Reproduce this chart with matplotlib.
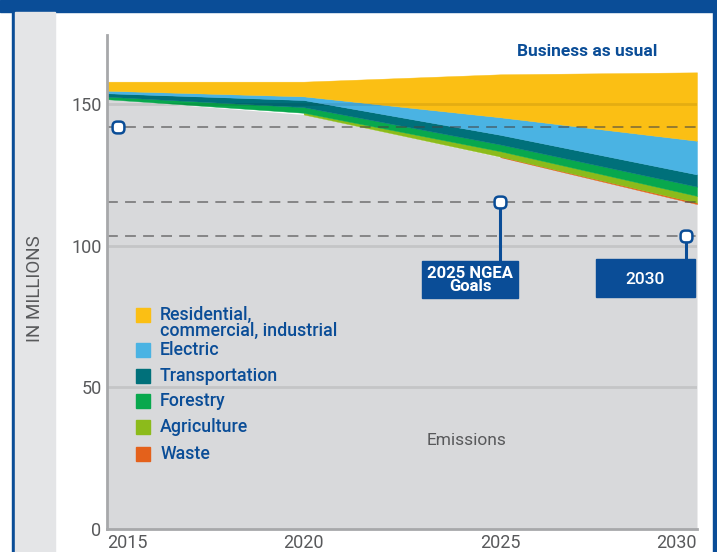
import matplotlib.pyplot as plt
import matplotlib.transforms as mtransforms
import numpy as np
from matplotlib.patches import BoxStyle, Rectangle

# emissions projection (millions) and the reduction wedge of each sector
years = [2015, 2020, 2025, 2030]
emissions = [151.8, 146.4, 131.3, 114.7]
waste = [np.nan, np.nan, 0.2, 0.5]
agriculture = [np.nan, 0.6, 1.9, 2.4]
forestry = [0.9, 2.0, 2.4, 3.3]
transportation = [1.2, 2.5, 3.4, 4.3]
electric = [0.9, 1.3, 6.2, 11.9]
residential = [3.2, 5.2, 15.2, 24.2]

sectors = ["Waste", "Agriculture", "Forestry", "Transportation", "Electric",
           "Residential,\ncommercial, industrial"]
sector_values = [waste, agriculture, forestry, transportation, electric, residential]
sector_colors = ["#e4611b", "#8cbb1b", "#08a84d", "#00707a", "#4ab3e3", "#fbbf14"]

# NGEA goal levels
goal_years = [2015, 2025, 2030]
goal_levels = [142.0, 115.5, 103.5]

y_ticks = [0, 50, 100, 150]
x_ticks = [2015, 2020, 2025, 2030]

BLUE = "#0a4d97"
TEXT_GRAY = "#58595b"
plt.rcParams['font.family'] = ['Roboto', 'DejaVu Sans']

fig = plt.figure(figsize=(7.17, 5.52), dpi=100)
fig.patch.set_facecolor("white")

# frame: top band, side rules and the grey label strip
W, H = 717, 552
def px_rect(x0, y0, x1, y1, color):
    fig.patches.append(Rectangle((x0 / W, 1 - y1 / H), (x1 - x0) / W, (y1 - y0) / H,
                                 transform=fig.transFigure, color=color, zorder=0))
px_rect(0, 0, W, 12, BLUE)
px_rect(12, 0, 15, H, BLUE)
px_rect(713, 0, 716, H, BLUE)
px_rect(15, 12, 55, H, "#e4e5e7")
fig.text(35 / W, 1 - 289 / H, "IN MILLIONS", rotation=90,
         ha="center", va="center", color=TEXT_GRAY, fontsize=13.5)

ax = fig.add_axes([107 / W, 1 - 528.5 / H, 590 / W, 493.5 / H])
ax.set_xlim(2015, 2030)
ax.set_ylim(0, 174.5)
ax.set_facecolor("white")

# emissions area and stacked wedges on top of it
ax.fill_between(years, 0, emissions, color="#d8d9db", lw=0, zorder=1)
bottom = np.array(emissions, dtype=float)
for vals, col in zip(sector_values, sector_colors):
    v = np.array(vals, dtype=float)
    mask = ~np.isnan(v)
    top = bottom + np.nan_to_num(v)
    ax.fill_between(years, bottom, top, where=mask, color=col, lw=0.3, edgecolor=col,
                    interpolate=False, zorder=2)
    bottom = top

# gridlines over the fills
for t in y_ticks[1:]:
    ax.axhline(t, color="black", alpha=0.09, lw=2, zorder=3)

# goal levels: dashed guides, markers and callout boxes
for lvl in goal_levels:
    ax.axhline(lvl, color="#444444", alpha=0.6, lw=1.3, ls=(0, (6, 4)), zorder=4)

# rounded-square marker
marker = BoxStyle.Round(pad=0, rounding_size=0.38)(-0.5, -0.5, 1, 1, 1)
offsets = [11, 0, -11]
for gx, gy, dx in zip(goal_years, goal_levels, offsets):
    tr = mtransforms.offset_copy(ax.transData, fig=fig, x=dx, y=0, units="dots")
    if gx != 2015:
        ax.plot([gx, gx], [gy, 90], color=BLUE, lw=2.2, transform=tr, zorder=5)
    ax.plot(gx, gy, marker=marker, ms=8.5, mfc="white", mec=BLUE, mew=1.8,
            transform=tr, zorder=6)

ax.add_patch(Rectangle((2023.01, 81.4), 2.44, 13.2, color=BLUE, zorder=6))
ax.text(2024.23, 88.0, "2025 NGEA\nGoals", color="white", fontsize=12, fontweight="bold",
        ha="center", va="center", linespacing=0.85, zorder=7)
ax.add_patch(Rectangle((2027.43, 81.9), 2.52, 13.4, color=BLUE, zorder=6))
ax.text(2028.69, 88.2, "2030", color="white", fontsize=12.5, fontweight="medium",
        ha="center", va="center", zorder=7)

ax.text(2027.2, 168.5, "Business as usual", color=BLUE, fontsize=12.5,
        fontweight="bold", ha="center", va="center")
ax.text(2024.15, 31, "Emissions", color=TEXT_GRAY, fontsize=12.5, ha="center", va="center")

# legend, top entry first
leg_y = [75.5, 63.0, 54.0, 45.0, 35.8, 26.3]
for (name, col), ly in zip(list(zip(sectors, sector_colors))[::-1], leg_y):
    ax.add_patch(Rectangle((2015.74, ly - 2.5), 0.36, 5.0, color=col, zorder=5))
    ax.text(2016.35, ly + (-2.8 if "\n" in name else 0), name, color=BLUE, fontsize=12.8,
            fontweight="medium", ha="left", va="center", linespacing=0.8, zorder=5)

# axes styling
for s in ["top", "right"]:
    ax.spines[s].set_visible(False)
for s in ["left", "bottom"]:
    ax.spines[s].set_color("#a7a8aa")
    ax.spines[s].set_linewidth(2)
    ax.spines[s].set_zorder(8)
ax.set_yticks(y_ticks)
ax.set_xticks(x_ticks)
ax.tick_params(length=0, labelsize=13, labelcolor=TEXT_GRAY, pad=4)
xl = ax.get_xticklabels()
xl[0].set_ha("left")
xl[-1].set_ha("right")

fig.savefig("out.png", dpi=100)
